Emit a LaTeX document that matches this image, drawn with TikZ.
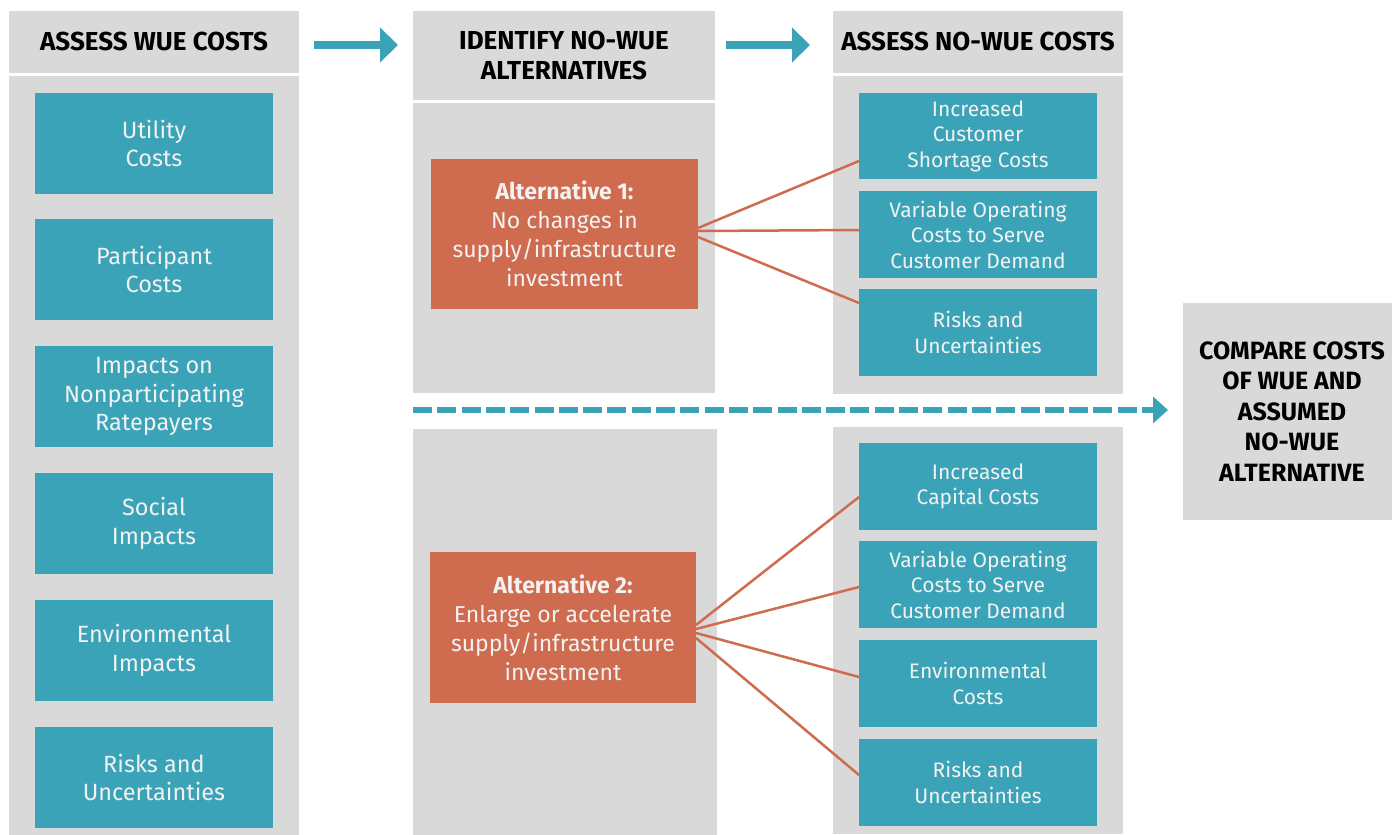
\documentclass[tikz,border=0pt]{standalone}
\usepackage{fontspec}
\setmainfont{Fira Sans}
\usetikzlibrary{arrows.meta,calc}
\definecolor{grayc}{HTML}{D9D9D9}
\definecolor{tealc}{HTML}{3AA3B8}
\definecolor{orangec}{HTML}{CF6B4E}
\definecolor{txtw}{HTML}{F2F2F2}
\begin{document}
\begin{tikzpicture}[x=1pt,y=-1pt,
  graybox/.style={fill=grayc, draw=none, inner sep=0pt, outer sep=0pt},
  headtxt/.style={font=\fontsize{26}{30}\selectfont\bfseries, align=center, text=black},
  tealL/.style={fill=tealc, text=txtw, inner sep=0pt, outer sep=0pt, minimum width=238pt, minimum height=101pt, align=center, font=\fontsize{23.5}{28.5}\selectfont},
  tealR/.style={fill=tealc, text=txtw, inner sep=0pt, outer sep=0pt, minimum width=238pt, minimum height=86.5pt, align=center, font=\fontsize{21}{25.5}\selectfont},
  altbox/.style={fill=orangec, text=txtw, inner sep=0pt, outer sep=0pt, align=center, font=\fontsize{23}{29}\selectfont},
  link/.style={draw=orangec, line width=2.5pt},
  bigarrow/.style={draw=tealc, line width=8pt, -{Triangle[length=18pt,width=34pt]}},
  dasharrow/.style={draw=tealc, line width=5.5pt, dash pattern=on 19pt off 5.3pt, -{Triangle[length=15pt,width=26pt]}}
]
\useasboundingbox[fill=white] (0,0) rectangle (1392,835);

% left column
\node[graybox, minimum width=290pt, minimum height=61.5pt, headtxt] (h1) at (154,41.75) {ASSESS WUE COSTS};
\node[graybox, minimum width=290pt, minimum height=759pt] (b1) at (154,455.5) {};
\node[tealL] (l1) at (154,143.5) {Utility\\Costs};
\node[tealL] (l2) at (154,269.5) {Participant\\Costs};
\node[tealL] (l3) at (154,396.5) {Impacts on\\Nonparticipating\\Ratepayers};
\node[tealL] (l4) at (154,523.5) {Social\\Impacts};
\node[tealL] (l5) at (154,650.5) {Environmental\\Impacts};
\node[tealL] (l6) at (154,777.5) {Risks and\\Uncertainties};

% middle column
\node[graybox, minimum width=302pt, minimum height=89pt, headtxt] (h2) at (564,55.5) {IDENTIFY NO-WUE\\ALTERNATIVES};
\node[graybox, minimum width=302pt, minimum height=290pt] (m1) at (564,248) {};
\node[graybox, minimum width=304pt, minimum height=406pt] (m2) at (565,632) {};
\node[altbox, minimum width=267pt, minimum height=150pt] (a1) at (564.5,234) {\textbf{Alternative 1:}\\No changes in\\supply/infrastructure\\investment};
\node[altbox, minimum width=266pt, minimum height=151pt] (a2) at (563,627.5) {\textbf{Alternative 2:}\\Enlarge or accelerate\\supply/infrastructure\\investment};

% right column
\node[graybox, minimum width=290pt, minimum height=61.5pt, headtxt] (h3) at (978,41.75) {ASSESS NO-WUE COSTS};
\node[graybox, minimum width=290pt, minimum height=318pt] (r1) at (978,235) {};
\node[graybox, minimum width=290pt, minimum height=407pt] (r2) at (978,630.5) {};
\node[tealR] (u1) at (978,136) {Increased\\Customer\\Shortage Costs};
\node[tealR] (u2) at (978,234.5) {Variable Operating\\Costs to Serve\\Customer Demand};
\node[tealR] (u3) at (978,332.5) {Risks and\\Uncertainties};
\node[tealR] (d1) at (978,486.5) {Increased\\Capital Costs};
\node[tealR] (d2) at (978,584.5) {Variable Operating\\Costs to Serve\\Customer Demand};
\node[tealR] (d3) at (978,683.5) {Environmental\\Costs};
\node[tealR] (d4) at (978,782.5) {Risks and\\Uncertainties};

% compare box
\node[graybox, minimum width=218pt, minimum height=217pt, font=\fontsize{25}{30.5}\selectfont\bfseries, align=center] (cmp) at (1292,411.5) {COMPARE COSTS\\OF WUE AND\\ASSUMED\\NO-WUE\\ALTERNATIVE};

% links
\draw[link] ($(a1.east)+(0,-6)$) -- ($(u1.west)+(0,25)$);
\draw[link] ($(a1.east)+(0,-3)$) -- ($(u2.west)+(0,-4.5)$);
\draw[link] ($(a1.east)+(0,3)$) -- ($(u3.west)+(0,-29.5)$);
\draw[link] ($(a2.east)+(0,-2.5)$) -- ($(d1.west)+(0,10.5)$);
\draw[link] ($(a2.east)+(0,1.5)$) -- ($(d2.west)+(0,2.5)$);
\draw[link] ($(a2.east)+(0,5.5)$) -- ($(d3.west)+(0,-6.5)$);
\draw[link] ($(a2.east)+(0,10.5)$) -- ($(d4.west)+(0,-7.5)$);

% arrows
\draw[bigarrow] ($(h1.north east)+(15,34)$) -- ($(h2.north west)+(-15,34)$);
\draw[bigarrow] ($(h2.north east)+(11,34)$) -- ($(h3.north west)+(-23,34)$);
\draw[dasharrow] ($(m1.south west)+(0,17)$) -- ($(cmp.west)+(-15,-1.5)$);
\end{tikzpicture}
\end{document}
